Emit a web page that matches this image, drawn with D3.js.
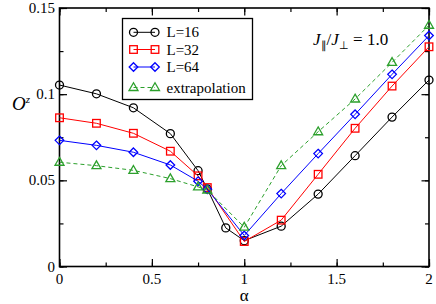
<!DOCTYPE html>
<html>
<head>
<meta charset="utf-8">
<script src="https://cdn.jsdelivr.net/npm/d3@7"></script>
<style>
  body { margin: 0; background: #fff; }
  svg { display: block; }
</style>
</head>
<body>
<div id="container"></div>
<script>
let w = 436;
let h = 304;

// data
let alpha = [0, 0.2, 0.4, 0.6, 0.75, 0.8, 1.0, 1.2, 1.4, 1.6, 1.8, 2.0];
let alpha16 = [0, 0.2, 0.4, 0.6, 0.75, 0.8, 0.9, 1.0, 1.2, 1.4, 1.6, 1.8, 2.0];
let L16 = [0.1053, 0.1002, 0.0921, 0.0771, 0.0556, 0.0450, 0.0224, 0.0150, 0.0234, 0.0420, 0.0643, 0.0867, 0.1082];
let L32 = [0.0863, 0.0831, 0.0773, 0.0669, 0.0526, 0.0458, 0.0145, 0.0269, 0.0535, 0.0802, 0.1047, 0.1275];
let L64 = [0.0732, 0.0703, 0.0663, 0.0589, 0.0495, 0.0448, 0.0180, 0.0423, 0.0655, 0.0883, 0.1115, 0.1340];
let extrap = [0.0605, 0.0585, 0.0558, 0.0510, 0.0462, 0.0444, 0.0228, 0.0585, 0.0782, 0.0972, 0.1184, 0.1400];

let seriesNames = ["L=16", "L=32", "L=64", "extrapolation"];
let xTicks = [0, 0.5, 1, 1.5, 2];
let yTicks = [0, 0.05, 0.1, 0.15];

let series = [
  {name: seriesNames[0], xs: alpha16, ys: L16, color: "#000000", shape: "circle", dash: null},
  {name: seriesNames[1], xs: alpha, ys: L32, color: "#ff0000", shape: "square", dash: null},
  {name: seriesNames[2], xs: alpha, ys: L64, color: "#0000ff", shape: "diamond", dash: null},
  {name: seriesNames[3], xs: alpha, ys: extrap, color: "#2ca02c", shape: "triangle", dash: "4,3"}
];

let serif = "'Liberation Serif', serif";
let pLeft = 59.5, pRight = 429, pTop = 8, pBottom = 266.5;

let viz = d3.select("#container")
  .append("svg")
    .attr("width", w)
    .attr("height", h)
    .attr("font-family", serif);

let x = d3.scaleLinear().domain([0, 2]).range([pLeft, pRight]);
let y = d3.scaleLinear().domain([0, 0.15]).range([pBottom, pTop]);

// frame
viz.append("rect")
  .attr("x", pLeft).attr("y", pTop)
  .attr("width", pRight - pLeft).attr("height", pBottom - pTop)
  .attr("fill", "none").attr("stroke", "#000").attr("stroke-width", 1.6);

// ticks, pointing inward on all four sides
function tickAxis(axis, transform, major, minor) {
  viz.append("g").attr("transform", transform)
    .call(axis.tickValues(minor).tickSize(4).tickFormat(""))
    .call(g => g.select(".domain").remove());
  viz.append("g").attr("transform", transform)
    .call(axis.tickValues(major).tickSize(7.5).tickFormat(""))
    .call(g => g.select(".domain").remove());
}
let xMinor = d3.range(0, 2.01, 0.25);
let yMinor = d3.range(0, 0.151, 0.025);
tickAxis(d3.axisTop(x), "translate(0," + pBottom + ")", xTicks, xMinor);
tickAxis(d3.axisBottom(x), "translate(0," + pTop + ")", xTicks, xMinor);
tickAxis(d3.axisRight(y), "translate(" + pLeft + ",0)", yTicks, yMinor);
tickAxis(d3.axisLeft(y), "translate(" + pRight + ",0)", yTicks, yMinor);
viz.selectAll(".tick line").attr("stroke", "#000").attr("stroke-width", 1.2);

// tick labels
viz.selectAll(".xlab").data(xTicks).enter()
  .append("text")
  .attr("font-family", serif)
  .attr("x", d => x(d))
  .attr("y", 284)
  .attr("text-anchor", "middle")
  .attr("font-size", 15)
  .text(d => d3.format("")(d));

viz.selectAll(".ylab").data(yTicks).enter()
  .append("text")
  .attr("font-family", serif)
  .attr("x", 55)
  .attr("y", d => y(d) + 5)
  .attr("text-anchor", "end")
  .attr("font-size", 15)
  .text(d => d3.format("")(d));

// axis titles
viz.append("text")
  .attr("font-family", serif)
  .attr("x", x(1)).attr("y", 301)
  .attr("text-anchor", "middle").attr("font-size", 17)
  .text("α");

let ylab = viz.append("text").attr("font-family", serif)
  .attr("x", 12).attr("y", 110).attr("font-size", 19);
ylab.append("tspan").attr("font-style", "italic").text("O");
ylab.append("tspan").attr("font-style", "italic").attr("font-size", 11).attr("dy", -7).text("z");

let ann = viz.append("text").attr("font-family", serif)
  .attr("x", 313).attr("y", 45).attr("font-size", 17);
ann.append("tspan").attr("font-style", "italic").text("J");
ann.append("tspan").attr("font-size", 11).attr("dy", 4).text("∥");
ann.append("tspan").attr("dy", -4).text("/");
ann.append("tspan").attr("font-style", "italic").text("J");
ann.append("tspan").attr("font-size", 11).attr("dy", 4).text("⊥");
ann.append("tspan").attr("dy", -4).text(" = 1.0");

// markers
function marker(sel, s) {
  if (s.shape == "circle") {
    sel.append("circle").attr("r", 4);
  } else if (s.shape == "square") {
    sel.append("rect").attr("x", -3.8).attr("y", -3.8).attr("width", 7.6).attr("height", 7.6);
  } else if (s.shape == "diamond") {
    sel.append("path").attr("d", "M0,-4.3L4.3,0L0,4.3L-4.3,0Z");
  } else {
    sel.append("path").attr("d", "M0,-4.8L4.5,3L-4.5,3Z");
  }
  sel.attr("fill", "none").attr("stroke", s.color).attr("stroke-width", 1.3);
}

let line = d3.line().x(d => x(d[0])).y(d => y(d[1]));

series.forEach(function(s) {
  let pts = s.xs.map((a, i) => [a, s.ys[i]]);
  viz.append("path")
    .attr("d", line(pts))
    .attr("fill", "none")
    .attr("stroke", s.color)
    .attr("stroke-width", 1)
    .attr("stroke-dasharray", s.dash);
  let g = viz.selectAll(".m-" + s.shape).data(pts).enter()
    .append("g")
    .attr("transform", d => "translate(" + x(d[0]) + "," + y(d[1]) + ")");
  g.each(function() { marker(d3.select(this), s); });
});

// legend
let lx = 122.5, ly = 18.5;
viz.append("rect")
  .attr("x", lx).attr("y", ly).attr("width", 130).attr("height", 81)
  .attr("fill", "#fff").attr("stroke", "#000").attr("stroke-width", 1.3);

let legendY = [32.3, 49.5, 67, 87.5];
series.forEach(function(s, i) {
  let yy = legendY[i];
  viz.append("line")
    .attr("x1", 133.5).attr("x2", 155).attr("y1", yy).attr("y2", yy)
    .attr("stroke", s.color).attr("stroke-width", 1)
    .attr("stroke-dasharray", s.dash);
  [133.5, 155].forEach(function(mx) {
    let g = viz.append("g").attr("transform", "translate(" + mx + "," + yy + ")");
    marker(g, s);
  });
  viz.append("text")
    .attr("font-family", serif)
    .attr("x", 166.5).attr("y", yy + 5)
    .attr("font-size", 15)
    .text(s.name);
});
</script>
</body>
</html>
